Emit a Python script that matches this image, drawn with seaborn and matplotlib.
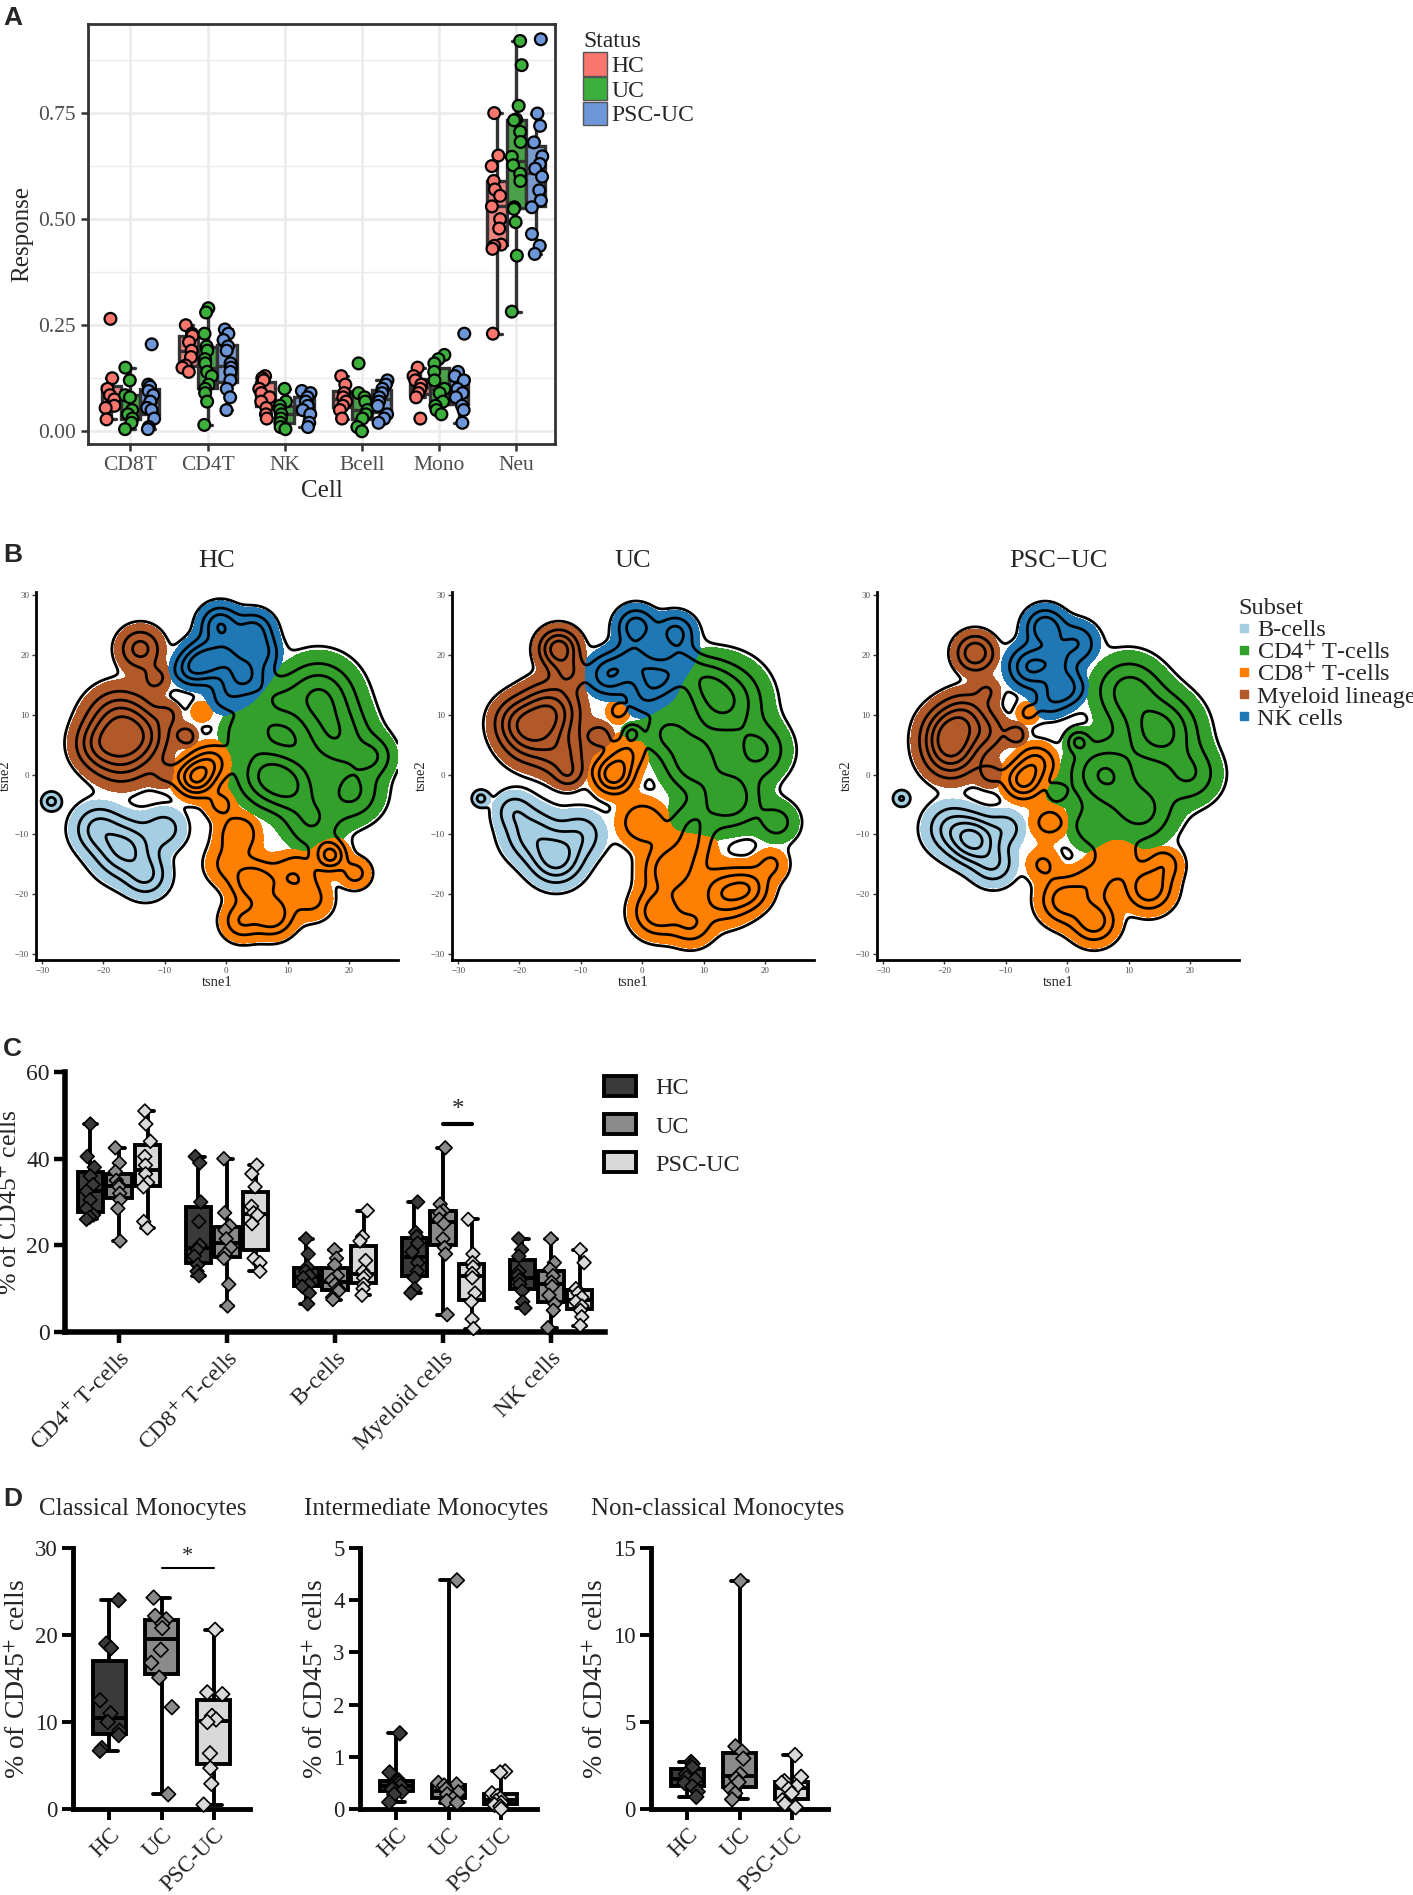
import numpy as np
import pandas as pd
import seaborn as sns
import matplotlib.pyplot as plt
from matplotlib.patches import Patch
from matplotlib.lines import Line2D

sns.set_theme(style="white")
plt.rcParams['font.family'] = ['Liberation Serif', 'DejaVu Serif']
plt.rcParams['mathtext.fontset'] = 'stix'

# ---------------- panel A data ----------------
cells_a = ["CD8T", "CD4T", "NK", "Bcell", "Mono", "Neu"]
status_a = ["HC", "UC", "PSC-UC"]
colors_a = ["#F8766D", "#3CAF3C", "#6D97D8"]
resp_hc = dict(CD8T=[0.265, 0.125, 0.10, 0.085, 0.075, 0.06, 0.055, 0.028],
               CD4T=[0.25, 0.23, 0.225, 0.21, 0.19, 0.175, 0.155, 0.15, 0.14],
               NK=[0.13, 0.125, 0.12, 0.10, 0.09, 0.08, 0.07, 0.055, 0.04, 0.03],
               Bcell=[0.13, 0.11, 0.09, 0.08, 0.07, 0.06, 0.05, 0.03],
               Mono=[0.15, 0.13, 0.12, 0.11, 0.10, 0.09, 0.08, 0.03],
               Neu=[0.75, 0.65, 0.625, 0.59, 0.57, 0.555, 0.53, 0.50, 0.478, 0.44, 0.437, 0.43, 0.23])
resp_uc = dict(CD8T=[0.15, 0.12, 0.085, 0.08, 0.05, 0.04, 0.03, 0.02, 0.005],
               CD4T=[0.29, 0.28, 0.23, 0.20, 0.19, 0.17, 0.16, 0.14, 0.13, 0.11, 0.10, 0.09, 0.07, 0.015],
               NK=[0.10, 0.07, 0.06, 0.05, 0.04, 0.03, 0.02, 0.01, 0.005],
               Bcell=[0.16, 0.09, 0.08, 0.07, 0.05, 0.04, 0.03, 0.01, 0.0],
               Mono=[0.18, 0.17, 0.16, 0.14, 0.12, 0.10, 0.09, 0.07, 0.06, 0.05, 0.04],
               Neu=[0.92, 0.863, 0.767, 0.735, 0.733, 0.706, 0.682, 0.647, 0.627, 0.607, 0.59, 0.528, 0.524, 0.493, 0.414, 0.282])
resp_psc = dict(CD8T=[0.205, 0.11, 0.105, 0.095, 0.085, 0.07, 0.055, 0.05, 0.03, 0.01, 0.005],
                CD4T=[0.24, 0.23, 0.215, 0.20, 0.19, 0.16, 0.15, 0.14, 0.12, 0.10, 0.08, 0.05],
                NK=[0.095, 0.09, 0.08, 0.07, 0.06, 0.05, 0.04, 0.02, 0.01],
                Bcell=[0.12, 0.11, 0.10, 0.09, 0.08, 0.07, 0.06, 0.04, 0.03, 0.02],
                Mono=[0.23, 0.14, 0.13, 0.12, 0.10, 0.09, 0.08, 0.06, 0.05, 0.02],
                Neu=[0.924, 0.749, 0.72, 0.681, 0.648, 0.63, 0.619, 0.60, 0.568, 0.544, 0.528, 0.465, 0.437, 0.418])

# ---------------- panel B data (cluster anchors) ----------------
subsets = ["B", "CD4", "CD8", "My", "NK"]
subset_labels = ["B-cells", r"CD4$^{+}$ T-cells", r"CD8$^{+}$ T-cells", "Myeloid lineage", "NK cells"]
subset_colors = ["#A6CEE3", "#33A02C", "#FF7F00", "#B15928", "#1F78B4"]

hc_t1 = [-1, 4.5, -3.5, 3, 0.5, -6, 6, 0,
         -17.5, -17, -13.5, -21, -14, -11.5, -6.5, -10, -9.5,
         -5, -2.5, -1, 2, 4.5, 7.5, 2.5, 11, 17, 21, -4, 0, 14,
         15, 18, 6.5, 10.5, 20.5, 3, 14, 24, 8,
         -16.5, -21, -13, -10, -28.5]
hc_t2 = [25, 24, 19, 16.5, 20.5, 17.5, 20.5, 13,
         9, 3.5, 6.5, 5, 21, 16, 6.5, 0, 10,
         -0.5, 2, -5, -10, -18, -23.5, -24.5, -17, -13.5, -16.5, 10.5, -15, -21,
         13, 6, 0, -2, -3, 7, -8, 3, 12,
         -12.5, -9, -17, -9, -4.5]
hc_sd = [2.0, 2.0, 2.2, 2.5, 2.2, 1.8, 1.8, 2.0,
         3.2, 3.2, 2.8, 2.5, 2.2, 1.6, 1.2, 1.6, 1.4,
         2.0, 2.0, 1.6, 2.2, 2.4, 2.2, 2.0, 2.5, 1.6, 1.6, 1.3, 2.2, 2.2,
         3.8, 3.6, 3.2, 3.0, 3.0, 2.5, 3.0, 2.2, 2.5,
         3.0, 2.5, 2.2, 2.2, 0.9]
hc_wt = [1.2, 1.0, 1.4, 1.3, 0.8, 0.7, 0.7, 0.5,
         1.4, 1.2, 0.9, 0.8, 1.0, 0.5, 0.6, 0.4, 0.4,
         1.8, 1.0, 0.5, 0.8, 1.2, 1.2, 0.8, 0.8, 1.4, 0.6, 0.4, 0.5, 0.5,
         1.3, 1.1, 1.2, 1.0, 0.9, 0.7, 0.8, 0.7, 0.6,
         1.4, 0.9, 0.8, 0.6, 0.6]
hc_sub = ["NK"] * 8 + ["My"] * 9 + ["CD8"] * 13 + ["CD4"] * 9 + ["B"] * 5

uc_t1 = [-1, 5.4, -5.5, 2.4, -1.5, 6.5, 0,
         -13.6, -12, -15, -18, -20.5, -13, -7, -12,
         -4.7, -2.5, -4, 0, 4.6, 2.6, 13.4, 17.4, 8, 8, 21,
         13.2, 14.2, 8.3, 4, 19, 22, -1.7, 8, 10,
         -14, -18, -10, -21, -26.3]
uc_t2 = [24.7, 23.6, 16.7, 16, 19, 18.5, 12.5,
         21, 17, 10.5, 6.5, 9, 3, 6.5, 0,
         0, 3.5, 10.5, -8, -16, -23, -20, -19, -12, -25, -15,
         12.2, -4, 2.1, 7, 4, -8, 6.9, -8, 16,
         -14, -10, -10, -6, -4]
uc_sd = [2.0, 2.0, 2.2, 2.4, 2.2, 2.0, 2.0,
         2.0, 1.8, 3.0, 3.0, 2.5, 2.5, 1.5, 1.5,
         2.0, 2.0, 1.3, 2.5, 2.8, 2.5, 2.8, 2.2, 2.5, 2.2, 1.8,
         4.0, 3.2, 3.2, 2.5, 3.0, 2.2, 1.0, 2.5, 2.5,
         2.6, 2.8, 2.5, 2.0, 0.8]
uc_wt = [1.1, 1.0, 1.2, 1.3, 0.9, 0.7, 0.5,
         1.6, 0.7, 1.6, 1.3, 0.8, 0.8, 0.6, 0.5,
         1.6, 0.8, 0.5, 0.8, 1.2, 1.2, 1.2, 0.9, 0.6, 0.8, 0.5,
         1.4, 1.2, 1.1, 0.8, 0.9, 0.6, 0.8, 0.6, 0.6,
         1.5, 1.0, 0.7, 0.6, 0.6]
uc_sub = ["NK"] * 7 + ["My"] * 8 + ["CD8"] * 11 + ["CD4"] * 9 + ["B"] * 5

psc_t1 = [-3.6, -6, -0.5, 1.5, -2, -3,
          -15, -19, -19, -16.5, -13, -12.5, -8.3, -13,
          -7.2, -5, -6.4, -3, -0.5, 4.4, 13.3, 8, 16, -4, 4,
          15.1, 5.9, 10, 1.8, -1.7, 12, 20, 4,
          -15.2, -19, -12, -10, -27]
psc_t2 = [24.6, 18, 14.5, 22, 19, 12,
          20.3, 7, 3.5, 10, 7, 0, 6.7, 14,
          -1, 2, 10.3, -8, -21, -24.5, -19, -14, -15, -15, -18,
          7.2, 0, 14, 5.5, -3, -6, 0, -9,
          -11, -9, -15, -9, -4]
psc_sd = [2.0, 2.3, 2.0, 2.2, 2.0, 1.8,
          2.0, 2.8, 2.8, 2.5, 2.2, 1.5, 1.2, 1.5,
          2.0, 2.0, 1.3, 2.0, 2.5, 2.3, 2.4, 2.4, 1.8, 1.8, 2.2,
          3.8, 3.5, 3.5, 1.2, 1.2, 3.5, 3.0, 2.5,
          2.4, 2.6, 2.2, 2.0, 0.8]
psc_wt = [1.2, 1.3, 1.1, 0.8, 0.7, 0.5,
          1.2, 1.6, 1.2, 0.8, 0.6, 0.5, 0.6, 0.4,
          1.4, 0.9, 0.5, 0.6, 1.1, 1.1, 1.2, 0.7, 0.6, 0.5, 0.6,
          1.5, 1.3, 1.0, 0.8, 0.6, 1.0, 0.8, 0.6,
          1.8, 0.9, 0.8, 0.6, 0.5]
psc_sub = ["NK"] * 6 + ["My"] * 8 + ["CD8"] * 11 + ["CD4"] * 8 + ["B"] * 5

# ---------------- panel C data ----------------
cells_c = [r"CD4$^{+}$ T-cells", r"CD8$^{+}$ T-cells", "B-cells", "Myeloid cells", "NK cells"]
groups = ["HC", "UC", "PSC-UC"]
grays = ["#3a3a3a", "#8a8a8a", "#d9d9d9"]
pct_hc = [[48, 40.5, 38, 36, 34, 32.5, 30.5, 28.5, 27, 26.5, 26],
          [40.5, 39, 30, 25.5, 20, 19, 17.5, 15.5, 14, 13],
          [21.5, 18, 15, 14, 13, 12.5, 11, 10.5, 9, 6.5],
          [30, 23, 22, 20.5, 18.5, 16, 14, 12.5, 10, 9],
          [21.5, 19, 17.5, 14, 13, 12, 11, 9.5, 7, 5.5]]
pct_uc = [[42.5, 39, 37, 35, 34, 33.5, 32, 30.5, 28.5, 21],
          [40, 27.5, 24.5, 23.5, 21.5, 19.5, 18, 17, 11, 6],
          [19, 17, 15.5, 13, 12, 11, 10, 9.5, 8, 7.5],
          [42.5, 29.5, 28, 27.5, 26, 25, 21.5, 19.5, 18, 4],
          [21.5, 16, 14.5, 13, 11.5, 10.5, 8.5, 6.5, 5, 1]]
pct_psc = [[51, 48, 44, 40.5, 38.5, 36.5, 34.5, 33.5, 25.5, 24],
           [38.5, 36.5, 33.5, 29, 27.5, 27, 25, 17, 16, 14],
           [28, 22, 21, 16.5, 14, 13, 12.5, 11, 10, 8.5],
           [26, 18, 16, 15, 13.5, 12.5, 9, 7, 3, 0.8],
           [19, 16, 10, 9, 8, 7, 6, 5, 3.5, 1.5]]

# ---------------- panel D data ----------------
mono_titles = ["Classical Monocytes", "Intermediate Monocytes", "Non-classical Monocytes"]
mono_hc = [[24, 19, 18.5, 12.5, 11, 10, 9, 8.5, 7, 6.7],
           [1.45, 0.7, 0.55, 0.5, 0.45, 0.42, 0.38, 0.33, 0.28, 0.13],
           [2.7, 2.6, 2.4, 2.0, 1.8, 1.7, 1.5, 1.3, 1.0, 0.7]]
mono_uc = [[24.3, 22.2, 21.8, 21.3, 20.8, 18.3, 16.8, 15.1, 11.7, 1.7],
           [4.38, 0.5, 0.47, 0.45, 0.38, 0.32, 0.28, 0.2, 0.15, 0.12],
           [13.1, 3.6, 3.3, 2.9, 2.0, 1.75, 1.55, 1.15, 0.9, 0.55]]
mono_psc = [[20.6, 13.4, 13.2, 10.7, 10.3, 10.0, 6.4, 4.7, 2.9, 0.5],
            [0.72, 0.7, 0.3, 0.25, 0.2, 0.15, 0.12, 0.08, 0.05, 0.0],
            [3.1, 1.85, 1.6, 1.5, 1.3, 1.15, 0.9, 0.5, 0.3, 0.1]]
mono_ymax = [30, 5, 15]
mono_yticks = [[0, 10, 20, 30], [0, 1, 2, 3, 4, 5], [0, 5, 10, 15]]

W, H = 1413, 1895
fig = plt.figure(figsize=(W / 100, H / 100), dpi=100)


def fax(l, t, w, h):
    # axes from pixel box (left, top, width, height)
    return fig.add_axes([l / W, 1 - (t + h) / H, w / W, h / H])


def letter(x, y, s):
    fig.text(x / W, 1 - y / H, s, fontsize=19, fontweight="bold",
             family=["Liberation Sans", "DejaVu Sans"], va="top", ha="left")


np.random.seed(3)

# ================= A =================
rows = []
for st, d in zip(status_a, [resp_hc, resp_uc, resp_psc]):
    for c in cells_a:
        for v in d[c]:
            rows.append((c, st, v))
dfa = pd.DataFrame(rows, columns=["Cell", "Status", "Response"])

axa = fax(88, 24, 467, 420)
axa.set_axisbelow(True)
sns.boxplot(data=dfa, x="Cell", y="Response", hue="Status", order=cells_a, hue_order=status_a,
            palette=colors_a, showfliers=False, width=0.75, linecolor="#333333", linewidth=2.4,
            legend=False, ax=axa)
sns.stripplot(data=dfa, x="Cell", y="Response", hue="Status", order=cells_a, hue_order=status_a,
              palette=colors_a, dodge=True, jitter=0.22, size=8.5, linewidth=1.6, edgecolor="black",
              legend=False, ax=axa)
axa.set_ylim(-0.03, 0.96)
axa.set_xlim(-0.55, 5.5)
axa.set_yticks([0, 0.25, 0.5, 0.75])
axa.set_yticklabels(["0.00", "0.25", "0.50", "0.75"])
axa.set_yticks([0.125, 0.375, 0.625, 0.875], minor=True)
axa.grid(which="major", color="#EBEBEB", lw=1.8)
axa.grid(which="minor", axis="y", color="#EBEBEB", lw=1.0)
for sp in axa.spines.values():
    sp.set_color("#333333")
    sp.set_linewidth(2)
axa.tick_params(which="major", length=5, width=1.8, color="#333333", labelcolor="#4D4D4D",
                labelsize=15.5, left=True, bottom=True)
axa.tick_params(which="minor", length=0)
axa.set_xlabel("Cell", fontsize=18)
axa.set_ylabel("Response", fontsize=18)
leg_a = axa.legend(handles=[Patch(facecolor=c, edgecolor="#555555", lw=1, label=s)
                            for c, s in zip(colors_a, status_a)],
                   title="Status", loc="upper left", bbox_to_anchor=(1.04, 1.005), frameon=False,
                   fontsize=17, title_fontsize=17, handlelength=1.0, handleheight=1.15,
                   labelspacing=0.0, handletextpad=0.2, borderaxespad=0)
leg_a._legend_box.align = "left"
letter(3, 6, "A")

# ================= B =================
gx = np.linspace(-31, 28, 320)
gy = np.linspace(-31, 30.5, 330)
GX, GY = np.meshgrid(gx, gy)

b_panels = [("HC", hc_t1, hc_t2, hc_sd, hc_wt, hc_sub, 36),
            ("UC", uc_t1, uc_t2, uc_sd, uc_wt, uc_sub, 452),
            ("PSC\u2212UC", psc_t1, psc_t2, psc_sd, psc_wt, psc_sub, 877)]
for title, t1, t2, sd, wt, sub, left in b_panels:
    ax = fax(left, 592, 362, 368)
    dens = {}
    for s in subsets:
        d = np.zeros_like(GX)
        for x, y, r, w, k in zip(t1, t2, sd, wt, sub):
            if k == s:
                d += w * np.exp(-((GX - x) ** 2 + (GY - y) ** 2) / (2 * r ** 2))
        dens[s] = d
    for s, col in zip(subsets, subset_colors):
        other = np.max([dens[o] for o in subsets if o != s], axis=0)
        field = np.minimum(dens[s] - 0.16, dens[s] - other)
        if field.max() > 0:
            ax.contourf(GX, GY, field, levels=[0, field.max() + 1], colors=[col])
    total = sum(dens.values())
    ax.contour(GX, GY, total, levels=[0.11, 0.45, 0.85, 1.3, 1.8], colors="black", linewidths=2.0)
    ax.set_xlim(-31, 28)
    ax.set_ylim(-31, 30.5)
    ax.set_xticks([-30, -20, -10, 0, 10, 20])
    ax.set_yticks([-30, -20, -10, 0, 10, 20, 30])
    for sp in ["top", "right"]:
        ax.spines[sp].set_visible(False)
    for sp in ["left", "bottom"]:
        ax.spines[sp].set_color("black")
        ax.spines[sp].set_linewidth(2)
    ax.tick_params(length=3, width=1, color="#333333", labelcolor="#4D4D4D", labelsize=6.5,
                   left=True, bottom=True, pad=2)
    ax.set_xlabel("tsne1", fontsize=10.5, labelpad=1)
    ax.set_ylabel("tsne2", fontsize=10.5, labelpad=2)
    ax.set_title(title, fontsize=19, pad=18)

fig.legend(handles=[Line2D([], [], ls="", marker="s", markersize=6, color=c, label=l)
                    for c, l in zip(subset_colors, subset_labels)],
           title="Subset", loc="upper left", bbox_to_anchor=(1238 / W, 1 - 598 / H), frameon=False,
           fontsize=17.5, title_fontsize=17.5, handlelength=0.5, handletextpad=0.3, labelspacing=0.0,
           borderaxespad=0, borderpad=0)._legend_box.align = "left"
letter(3, 543, "B")


# ================= C / D helpers =================
def long_df(names, hc, uc, psc):
    rr = []
    for g, vals in zip(groups, [hc, uc, psc]):
        for n, vs in zip(names, vals):
            for v in vs:
                rr.append((n, g, v))
    return pd.DataFrame(rr, columns=["cat", "grp", "val"])


def prism_style(ax, spine_w, lab_size, ylab_size):
    for sp in ["top", "right"]:
        ax.spines[sp].set_visible(False)
    for sp in ["left", "bottom"]:
        ax.spines[sp].set_color("black")
        ax.spines[sp].set_linewidth(spine_w)
    ax.tick_params(length=8, width=spine_w * 0.8, color="black", labelsize=lab_size, left=True,
                   bottom=True, labelcolor="#222222", pad=3)
    ax.set_xlabel("")
    ax.set_ylabel(r"% of CD45$^{+}$ cells", fontsize=ylab_size, labelpad=3)
    plt.setp(ax.get_xticklabels(), rotation=45, ha="right", rotation_mode="anchor")


# ================= C =================
dfc = long_df(cells_c, pct_hc, pct_uc, pct_psc)
axc = fax(65, 1072, 540, 260)
sns.boxplot(data=dfc, x="cat", y="val", hue="grp", order=cells_c, hue_order=groups, palette=grays,
            whis=(0, 100), width=0.8, gap=0.12, linecolor="black", linewidth=2.8,
            legend=False, ax=axc)
sns.stripplot(data=dfc, x="cat", y="val", hue="grp", order=cells_c, hue_order=groups, palette=grays,
              dodge=True, jitter=0.12, marker="D", size=7, linewidth=1.2, edgecolor="black",
              legend=False, clip_on=False, ax=axc)
prism_style(axc, 4, 17, 18.5)
axc.set_ylim(0, 60)
axc.set_xlim(-0.5, 4.5)
axc.set_yticks([0, 20, 40, 60])
axc.plot([3.0, 3.27], [48, 48], color="black", lw=3)
axc.text(3.135, 48.8, "*", ha="center", va="bottom", fontsize=18)
axc.legend(handles=[Patch(facecolor=c, edgecolor="black", lw=2.8, label=g) for c, g in zip(grays, groups)],
           loc="upper left", bbox_to_anchor=(604 / W, 1 - 1076 / H), bbox_transform=fig.transFigure,
           frameon=False, fontsize=17.5, handlelength=1.3, handleheight=0.9, labelspacing=0.6,
           handletextpad=0.8, borderaxespad=0, borderpad=0)
letter(3, 1037, "C")

# ================= D =================
d_lefts = [73, 360, 651]
d_title_x = [143, 426, 718]
for i in range(3):
    dfd = pd.DataFrame({"cat": ["HC"] * len(mono_hc[i]) + ["UC"] * len(mono_uc[i]) + ["PSC-UC"] * len(mono_psc[i]),
                        "val": mono_hc[i] + mono_uc[i] + mono_psc[i]})
    ax = fax(d_lefts[i], 1548, 177, 261)
    sns.boxplot(data=dfd, x="cat", y="val", hue="cat", order=groups, hue_order=groups, palette=grays,
                whis=(0, 100), width=0.65, dodge=False, linecolor="black", linewidth=2.8,
                legend=False, ax=ax)
    sns.stripplot(data=dfd, x="cat", y="val", hue="cat", order=groups, hue_order=groups, palette=grays,
                  dodge=False, jitter=0.2, marker="D", size=7.5, linewidth=1.2, edgecolor="black",
                  legend=False, clip_on=False, ax=ax)
    prism_style(ax, 3.5, 16.5, 20)
    ax.set_ylim(0, mono_ymax[i])
    ax.set_yticks(mono_yticks[i])
    ax.set_xlim(-0.7, 2.7)
    fig.text(d_title_x[i] / W, 1 - 1509 / H, mono_titles[i], fontsize=18, ha="center", va="center")
    if i == 0:
        ax.plot([1, 2], [27.7, 27.7], color="black", lw=1.5)
        ax.text(1.5, 27.9, "*", ha="center", va="bottom", fontsize=16)
letter(3, 1487, "D")

fig.savefig("out.png", dpi=100)
